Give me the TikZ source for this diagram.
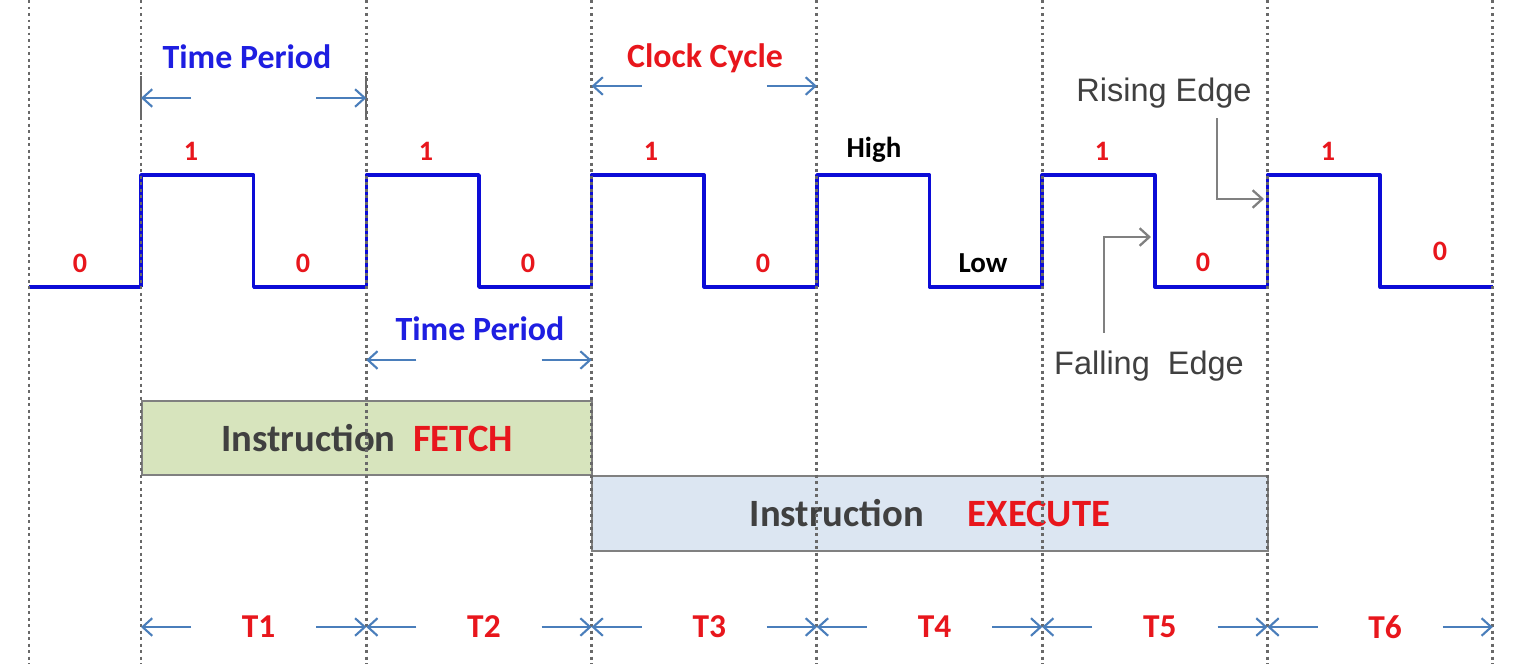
\documentclass[tikz,border=0pt]{standalone}
\usepackage{fontspec}
\setmainfont{Carlito}
\newfontfamily\notefont{Liberation Sans}
\usepackage{tikz}
\usetikzlibrary{arrows.meta}
\usetikzlibrary{calc}
\def\period{225.3}
\definecolor{clkblue}{RGB}{12,12,215}
\definecolor{tpblue}{RGB}{30,30,225}
\definecolor{clkred}{RGB}{232,22,28}
\definecolor{arrblue}{RGB}{74,126,187}
\definecolor{gridgrey}{RGB}{105,105,105}
\definecolor{notegrey}{RGB}{128,128,128}
\definecolor{textgrey}{RGB}{64,64,64}
\definecolor{fetchgreen}{RGB}{215,228,189}
\definecolor{execblue}{RGB}{220,230,242}

\begin{document}
\begin{tikzpicture}[x=0.02cm, y=-0.02cm, font=\bfseries]
	\tikzstyle{grid}=[draw=gridgrey, line width=1.7pt, dash pattern=on 1.7pt off 2pt]
	\tikzstyle{wave}=[draw=clkblue, line width=2pt, line join=round]
	\tikzstyle{dim}=[draw=arrblue, line width=1.2pt, -{Straight Barb[length=5.5pt,width=10pt]}]
	\tikzstyle{notearrow}=[draw=notegrey, line width=1.3pt, -{Straight Barb[length=5.5pt,width=10pt]}]
	\tikzstyle{bit}=[text=clkred, font=\fontsize{16}{18}\selectfont\bfseries]
	\tikzstyle{level}=[text=black, font=\fontsize{16.5}{19}\selectfont\bfseries]
	\tikzstyle{span}=[font=\fontsize{19.3}{23}\selectfont\bfseries]
	\tikzstyle{tlabel}=[text=clkred, font=\fontsize{19}{22}\selectfont\bfseries]
	\tikzstyle{note}=[text=textgrey, font=\fontsize{18.5}{22}\selectfont\notefont]
	\tikzstyle{phase}=[anchor=north west, draw=notegrey, line width=1.1pt, text=textgrey, font=\fontsize{22}{26}\selectfont\bfseries]

	\path[use as bounding box, fill=white] (0,0) rectangle (1516,664);

	% Draw the instruction boxes
	\node[phase, fill=fetchgreen, minimum width=9.006cm, minimum height=1.48cm] (fetch) at (141,400)
	{Instruction\hspace{10pt}\textcolor{clkred}{FETCH}};
	\node[phase, fill=execblue, minimum width=13.52cm, minimum height=1.5cm] (exec) at (591,475)
	{Instruction\hspace{25pt}\textcolor{clkred}{EXECUTE}};

	% Draw the clock signal
	\coordinate (start) at (29,287);
	\foreach \k in {0,...,5}
	\coordinate (E-\k) at ({141+\period*\k},287);
	\draw[wave] (start) -- (E-0);
	\foreach \k in {0,...,5}
	\draw[wave] (E-\k) -- ++(0,-112) -- ++({\period/2},0) -- ++(0,112) -- ++({\period/2},0);

	% Draw the dotted grid
	\coordinate (G-s) at (29,0);
	\foreach \k in {0,...,6}
	\coordinate (G-\k) at ({141+\period*\k},0);
	\foreach \k in {s,0,1,2,3,4,5,6}
	\draw[grid] (G-\k) -- ++(0,664);
	\draw[gridgrey, line width=1.1pt] (G-0 |- 0,76) -- (G-0 |- 0,120);
	\draw[gridgrey, line width=1.1pt] (G-1 |- 0,76) -- (G-1 |- 0,120);

	% Annotate the levels
	\foreach \x / \y in {80/263, 303/263, 528/263, 763/263, 1203/262, 1440/251}
	\node[bit] (low-\x) at (\x,\y) {0};
	\foreach \x in {191, 426, 651, 1102, 1328}
	\node[bit] (high-\x) at (\x,151) {1};
	\node[level] (hi) at (874,150) {High};
	\node[level] (lo) at (983,263) {Low};

	% Time period and clock cycle
	\node[span, text=tpblue] (tp1) at (247,57) {Time Period};
	\coordinate (tp1-row) at (0,98);
	\draw[dim] ($(G-0 |- tp1-row)+(50,0)$) -- (G-0 |- tp1-row);
	\draw[dim] ($(G-1 |- tp1-row)+(-50,0)$) -- (G-1 |- tp1-row);

	\node[span, text=clkred] (cc) at (705,58) {Clock Cycle};
	\coordinate (cc-row) at (0,86);
	\draw[dim] ($(G-2 |- cc-row)+(50,0)$) -- (G-2 |- cc-row);
	\draw[dim] ($(G-3 |- cc-row)+(-50,0)$) -- (G-3 |- cc-row);

	\node[span, text=tpblue] (tp2) at (480,329) {Time Period};
	\coordinate (tp2-row) at (0,360);
	\draw[dim] ($(G-1 |- tp2-row)+(50,0)$) -- (G-1 |- tp2-row);
	\draw[dim] ($(G-2 |- tp2-row)+(-50,0)$) -- (G-2 |- tp2-row);

	% Rising and falling edge
	\node[note] (rise) at (1164,93) {Rising Edge};
	\coordinate (rise-tip) at (1264,199);
	\draw[notearrow] (rise.south) ++(53,4) |- (rise-tip);
	\node[note] (fall) at (1149,366) {Falling\ \ Edge};
	\coordinate (fall-tip) at (1151,237);
	\draw[notearrow] (fall.north) ++(-45,-12) |- (fall-tip);

	% Mark the states T1 ... T6
	\foreach \k / \n in {0/1,1/2,2/3,3/4,4/5,5/6} {
		\node[tlabel] (T-\n) at ({141+\period*(\k+0.5)+5},627) {T\n};
		\draw[dim] ($(G-\k |- T-\n)+(50,0)$) -- (G-\k |- T-\n);
		\draw[dim] ($(G-\n |- T-\n)+(-50,0)$) -- (G-\n |- T-\n);
	}
\end{tikzpicture}
\end{document}
